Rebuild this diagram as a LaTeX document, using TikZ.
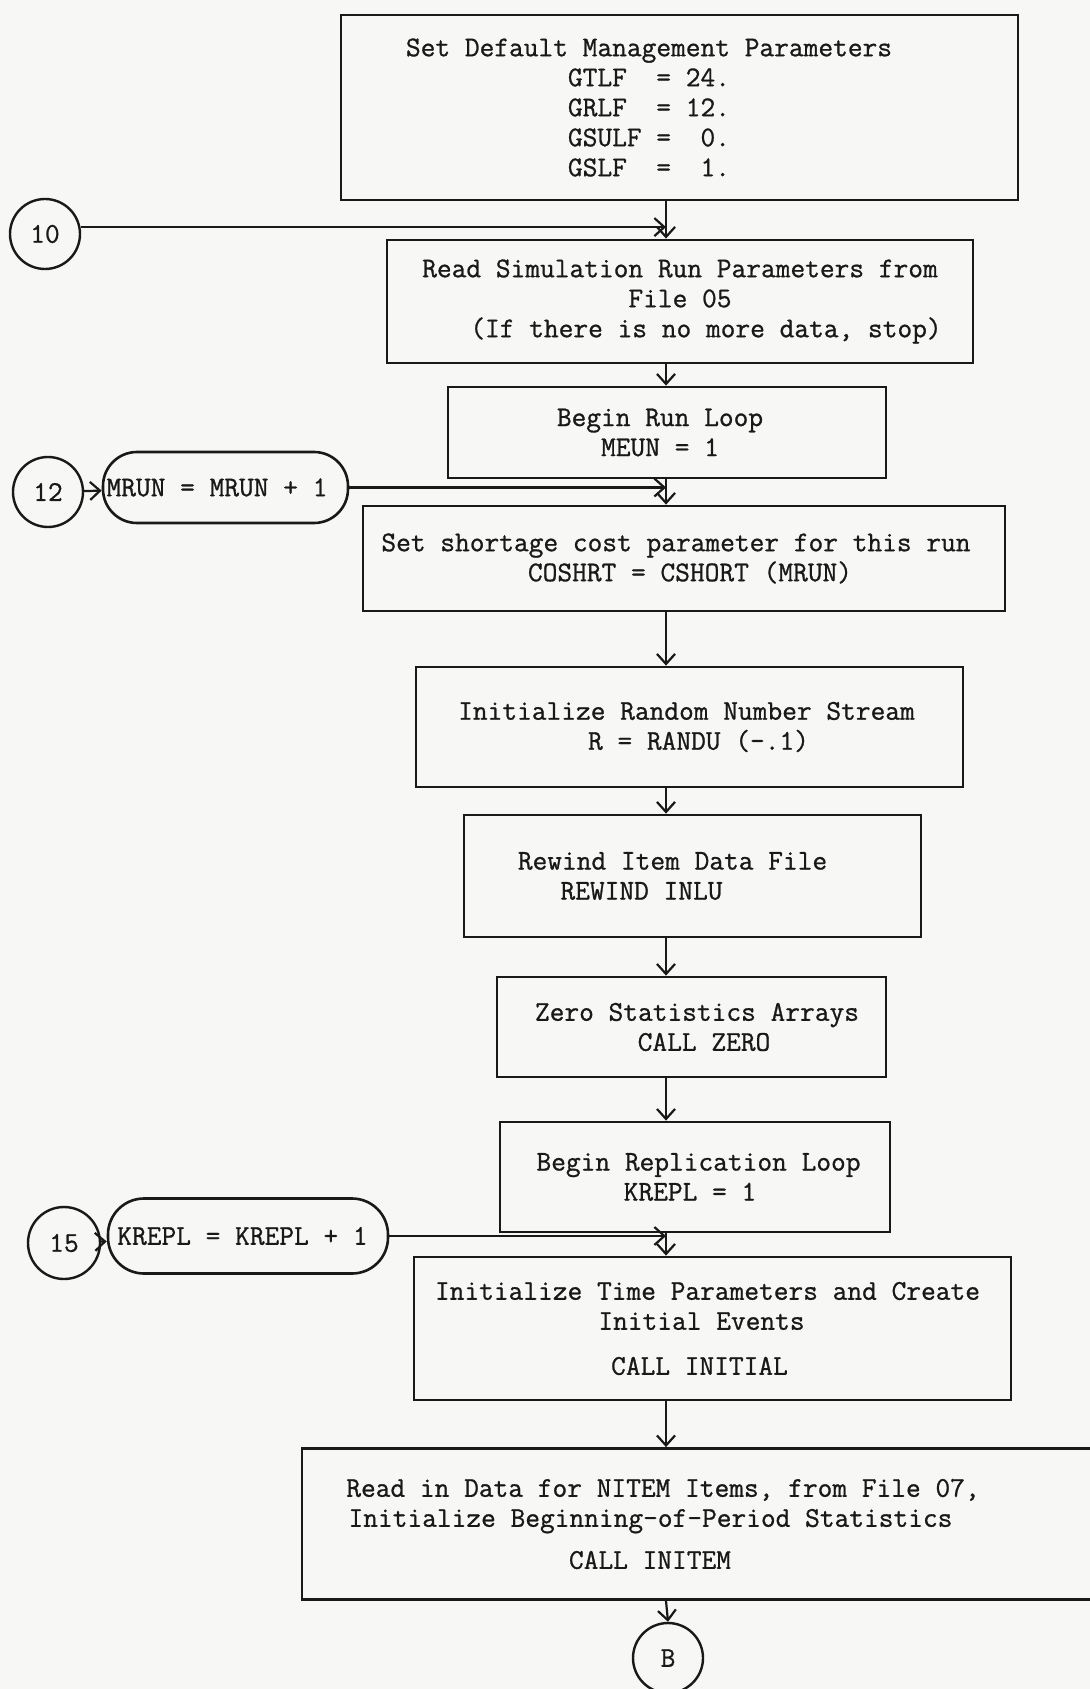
\documentclass[tikz,border=0pt]{standalone}
\usepackage{fontspec}
\usetikzlibrary{arrows.meta}
\newfontfamily\typew{Latin Modern Mono}[FakeBold=0.9]
\newcommand\shl[2]{\kern#1\relax#2\kern-#1\relax}
\definecolor{paper}{RGB}{247,247,245}
\definecolor{ink}{RGB}{25,25,25}
\begin{document}
\begin{tikzpicture}[x=0.5pt,y=-0.5pt,
  box/.style={draw=ink, line width=1.4pt, align=center, inner sep=0pt,
    text=ink, font=\fontsize{14.3}{15}\typew},
  pill/.style={draw=ink, line width=1.3pt, rounded corners=17pt, inner sep=0pt,
    text=ink, font=\fontsize{14.3}{15}\typew},
  conn/.style={draw=ink, line width=1.1pt},
  arr/.style={conn, -{Straight Barb[length=5pt,width=9pt]}},
  ring/.style={draw=ink, circle, line width=1.2pt, inner sep=0pt, minimum size=35pt,
    text=ink, font=\fontsize{14.3}{15}\typew}]
\path[use as bounding box, fill=paper] (0,0) rectangle (1090,1689);
\clip (0,0) rectangle (1090,1689);
\coordinate (spine) at (666,0);

\node[box, minimum width=338.5pt, minimum height=92.5pt] (b1) at (679.5,107.5)
 {\shl{-15.25pt}{Set Default Management Parameters}\\
  \shl{-15.25pt}{GTLF~ = 24.}\\
  \shl{-15.25pt}{GRLF~ = 12.}\\
  \shl{-15.25pt}{GSULF =~ 0.}\\
  \shl{-15.25pt}{GSLF~ =~ 1.}};

\node[box, minimum width=293pt, minimum height=61.5pt] (b2) at (680,301.5)
 {Read Simulation Run Parameters from\\
  File 05\\
  \shl{13pt}{(If there is no more data, stop)}};

\node[box, minimum width=219pt, minimum height=45.5pt] (b3) at (667,432.5)
 {\shl{-3.5pt}{Begin Run Loop}\\ \shl{-3.5pt}{MEUN = 1}};

\node[box, minimum width=321pt, minimum height=52.5pt] (b4) at (684,558.5)
 {\shl{-4pt}{Set shortage cost parameter for this run}\\
  \shl{3pt}{COSHRT = CSHORT (MRUN)}};

\node[box, minimum width=273.5pt, minimum height=60pt] (b5) at (689.5,727)
 {\shl{-1.5pt}{Initialize Random Number Stream}\\
  \shl{4.5pt}{R = RANDU (-.1)}};

\node[box, minimum width=228.5pt, minimum height=61pt] (b6) at (692.5,876)
 {\shl{-10pt}{Rewind Item Data File}\\
  \shl{-25.5pt}{REWIND INLU}};

\node[box, minimum width=194.5pt, minimum height=50pt] (b7) at (691.5,1027)
 {\shl{2.75pt}{Zero Statistics Arrays}\\
  \shl{6.25pt}{CALL ZERO}};

\node[box, minimum width=195pt, minimum height=55pt] (b8) at (695,1177)
 {\shl{1.75pt}{Begin Replication Loop}\\
  \shl{-2.5pt}{KREPL = 1}};

\node[box, minimum width=298.5pt, minimum height=71.5pt] (b9) at (712.5,1328.5)
 {\shl{-2.5pt}{Initialize Time Parameters and Create}\\
  \shl{-5.5pt}{Initial Events}\\[7.5pt]
  \shl{-6.5pt}{CALL INITIAL}};

\node[box, minimum width=399pt, minimum height=75.5pt] (b10) at (701,1524)
 {\shl{-19pt}{Read in Data for NITEM Items, from File 07,}\\[0pt]
  \shl{-25.25pt}{Initialize Beginning-of-Period Statistics}\\[6pt]
  \shl{-25.5pt}{CALL INITEM}};

\node[ring] (c10) at (45,234) {10};
\node[ring] (c12) at (48,492) {12};
\node[ring, minimum size=36pt] (c15) at (64,1243) {15};
\node[ring] (cB) at (668,1658) {B};

\node[pill, minimum width=122.5pt, minimum height=35.5pt] (r12) at (225.5,487.5)
 {\shl{-4.25pt}{MRUN = MRUN + 1}};
\node[pill, minimum width=140pt, minimum height=37.5pt, rounded corners=18pt] (r15) at (248,1236)
 {\shl{-2.75pt}{KREPL = KREPL + 1}};

\draw[arr] (b1.south -| spine) -- (b2.north -| spine);
\draw[arr] (c10.11) -- (c10.11 -| spine);
\draw[arr] (b2.south -| spine) -- (b3.north -| spine);
\draw[arr] (b3.south -| spine) -- (b4.north -| spine);
\draw[arr] (c12) -- (r12);
\draw[arr] (r12.east) -- (r12.east -| spine);
\draw[arr] (b4.south -| spine) -- (b5.north -| spine);
\draw[arr] (b5.south -| spine) -- (b6.north -| spine);
\draw[arr] (b6.south -| spine) -- (b7.north -| spine);
\draw[arr] (b7.south -| spine) -- (b8.north -| spine);
\draw[arr] (b8.south -| spine) -- (b9.north -| spine);
\draw[arr] (c15) -- (r15);
\draw[arr] (r15.east) -- (r15.east -| spine);
\draw[arr] (b9.south -| spine) -- (b10.north -| spine);
\draw[arr] (b10.south -| spine) -- (cB.north);
\end{tikzpicture}
\end{document}
